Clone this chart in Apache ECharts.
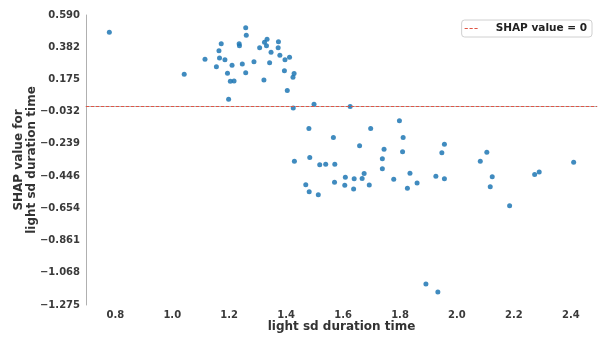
<!DOCTYPE html>
<html>
<head>
<meta charset="utf-8">
<script src="https://cdn.jsdelivr.net/npm/echarts@6/dist/echarts.min.js"></script>
<style>
  html, body { margin: 0; padding: 0; background: #ffffff; }
  #chart { width: 606px; height: 341px; }
</style>
</head>
<body>
<div id="chart"></div>
<script>
// Feature values (light sd duration time) and their SHAP contributions
const durationSd = [
  0.779, 1.042, 1.115, 1.155, 1.164, 1.166, 1.172, 1.185, 1.194, 1.204,
  1.217, 1.210, 1.198, 1.235, 1.236, 1.246, 1.258, 1.260, 1.258, 1.287,
  1.307, 1.322, 1.324, 1.333, 1.331, 1.342, 1.347, 1.373, 1.372, 1.378,
  1.394, 1.396, 1.412, 1.404, 1.428, 1.424, 1.425, 1.498, 1.625, 1.480,
  1.697, 1.798, 1.566, 1.811, 1.658, 1.744, 1.809, 1.956, 1.947, 2.105,
  2.082, 2.410, 1.429, 1.483, 1.518, 1.539, 1.571, 1.738, 1.738, 1.469,
  1.481, 1.513, 1.570, 1.608, 1.606, 1.639, 1.637, 1.667, 1.674, 1.692,
  1.778, 1.826, 1.835, 1.860, 1.926, 1.956, 2.117, 2.124, 2.185, 2.273,
  2.289, 1.891, 1.933
];
const shapValues = [
  0.479, 0.209, 0.306, 0.257, 0.360, 0.313, 0.405, 0.302, 0.216, 0.164,
  0.166, 0.267, 0.048, 0.405, 0.392, 0.275, 0.508, 0.459, 0.219, 0.289,
  0.380, 0.172, 0.414, 0.434, 0.393, 0.283, 0.350, 0.418, 0.380, 0.331,
  0.231, 0.302, 0.318, 0.104, 0.214, 0.189, -0.008, 0.016, 0.001, -0.140,
  -0.140, -0.090, -0.198, -0.198, -0.251, -0.274, -0.290, -0.241, -0.296, -0.293,
  -0.351, -0.357, -0.351, -0.327, -0.373, -0.370, -0.370, -0.334, -0.398, -0.502,
  -0.546, -0.566, -0.485, -0.453, -0.505, -0.463, -0.529, -0.461, -0.430, -0.503,
  -0.467, -0.524, -0.427, -0.490, -0.447, -0.463, -0.514, -0.451, -0.636, -0.436,
  -0.420, -1.140, -1.191
];

// Axis ticks
const xTicks = [0.8, 1.0, 1.2, 1.4, 1.6, 1.8, 2.0, 2.2, 2.4];
const yTicks = [0.590, 0.382, 0.175, -0.032, -0.239, -0.446, -0.654, -0.861, -1.068, -1.275];
const xLimits = [0.697, 2.492];
const yLimits = [-1.275, 0.590];

const FONT = "'DejaVu Sans', sans-serif";
const LINE_RED = '#e05545';
const points = durationSd.map((x, i) => [x, shapValues[i]]);
const minus = s => s.replace('-', '\u2212');

// short dashed stroke used as the legend key of the reference line
const dashIcon = 'path://M0,0h3.2v1.1h-3.2z M4.9,0h3.2v1.1h-3.2z M9.8,0h3.2v1.1h-3.2z';

const chart = echarts.init(document.getElementById('chart'), null, { renderer: 'canvas' });
chart.setOption({
  animation: false,
  backgroundColor: '#ffffff',
  grid: { left: 86, right: 9, top: 15, bottom: 36, containLabel: false, outerBoundsMode: 'none' },
  legend: {
    right: 14,
    top: 20,
    padding: [3, 5, 3, 3],
    borderColor: '#d0d0d0',
    borderWidth: 1,
    borderRadius: 3,
    backgroundColor: '#ffffff',
    itemWidth: 13,
    itemHeight: 10,
    data: [{ name: 'SHAP value = 0', icon: dashIcon }],
    textStyle: {
      fontFamily: FONT, fontWeight: 'bold', fontSize: 10.5, color: '#222222',
      padding: [0, 0, 0, 13]
    }
  },
  xAxis: {
    type: 'value',
    min: xLimits[0],
    max: xLimits[1],
    name: 'light sd duration time',
    nameLocation: 'middle',
    nameGap: 16,
    nameMoveOverlap: false,
    nameTextStyle: { fontFamily: FONT, fontWeight: 'bold', fontSize: 12, color: '#333333' },
    axisLine: { show: true, lineStyle: { color: '#b0b0b0', width: 1 } },
    axisTick: { show: false },
    splitLine: { show: false },
    axisLabel: {
      customValues: xTicks,
      formatter: v => v.toFixed(1),
      margin: 5,
      fontFamily: FONT, fontWeight: 'bold', fontSize: 10, color: '#3a3a3a'
    }
  },
  yAxis: {
    type: 'value',
    min: yLimits[0],
    max: yLimits[1],
    name: 'SHAP value for\nlight sd duration time',
    nameLocation: 'middle',
    nameGap: 48,
    nameMoveOverlap: false,
    nameTextStyle: { fontFamily: FONT, fontWeight: 'bold', fontSize: 12, color: '#333333', lineHeight: 13 },
    axisLine: { show: true, lineStyle: { color: '#b0b0b0', width: 1 } },
    axisTick: { show: false },
    splitLine: { show: false },
    axisLabel: {
      customValues: yTicks,
      formatter: v => minus(v.toFixed(3)),
      margin: 6,
      showMinLabel: true,
      showMaxLabel: true,
      fontFamily: FONT, fontWeight: 'bold', fontSize: 10, color: '#3a3a3a'
    }
  },
  series: [
    {
      type: 'scatter',
      name: 'points',
      data: points,
      symbolSize: 5,
      itemStyle: { color: '#1f77b4', opacity: 0.85 },
      z: 3
    },
    {
      type: 'line',
      name: 'SHAP value = 0',
      data: [],
      symbol: 'none',
      color: LINE_RED,
      itemStyle: { color: LINE_RED },
      lineStyle: { color: LINE_RED, width: 1, type: [3, 2] },
      markLine: {
        silent: true,
        symbol: ['none', 'none'],
        label: { show: false },
        lineStyle: { color: LINE_RED, width: 1, type: [3, 2] },
        data: [{ yAxis: 0 }]
      },
      z: 2
    }
  ]
});
</script>
</body>
</html>
